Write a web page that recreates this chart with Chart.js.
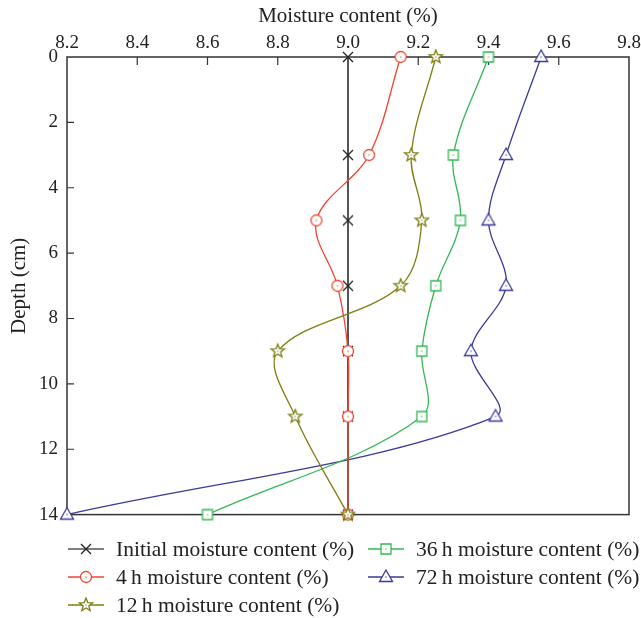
<!DOCTYPE html>
<html>
<head>
<meta charset="utf-8">
<script src="https://cdn.jsdelivr.net/npm/chart.js@4.4.1/dist/chart.umd.min.js"></script>
<style>
  html, body { margin: 0; padding: 0; background: #fff; }
  #wrap { position: relative; width: 641px; height: 618px; font-family: "Liberation Serif", "Times New Roman", serif; }
  #chart-box { position: absolute; left: 0; top: 0; width: 641px; height: 535px; }
  #legend {
    position: absolute; left: 68px; top: 535px;
    display: grid; grid-template-columns: 300px 280px; grid-template-rows: repeat(3, 28px);
    grid-auto-flow: column;
  }
  .item { display: flex; align-items: center; font-size: 21.5px; color: #222; white-space: nowrap; }
  .item canvas { margin-right: 12px; }
</style>
</head>
<body>
<div id="wrap">
  <div id="chart-box"><canvas id="moisture-chart"></canvas></div>
  <div id="legend"></div>
</div>
<script>
// Depth profile readings (cm) and moisture content (%) per series
const depths = [0, 3, 5, 7, 9, 11, 14];
const initialMoisture = [9.0, 9.0, 9.0, 9.0, 9.0, 9.0, 9.0];
const moisture4h = [9.15, 9.06, 8.91, 8.97, 9.0, 9.0, 9.0];
const moisture12h = [9.25, 9.18, 9.21, 9.15, 8.80, 8.85, 9.0];
const moisture36h = [9.40, 9.30, 9.32, 9.25, 9.21, 9.21, 8.60];
const moisture72h = [9.55, 9.45, 9.40, 9.45, 9.35, 9.42, 8.20];

const seriesLabels = [
  'Initial moisture content (%)',
  '4\u2009h moisture content (%)',
  '12\u2009h moisture content (%)',
  '36\u2009h moisture content (%)',
  '72\u2009h moisture content (%)'
];

const xTicks = [8.2, 8.4, 8.6, 8.8, 9.0, 9.2, 9.4, 9.6, 9.8];
const yTicks = [0, 2, 4, 6, 8, 10, 12, 14];

const FONT = '"Liberation Serif", "Times New Roman", serif';

/**
 * Draw one hollow marker (white fill, coloured outline) centred at cx, cy
 */
function drawMarker(ctx, type, color, cx, cy) {
  ctx.save();
  ctx.strokeStyle = color;
  ctx.fillStyle = '#fff';
  ctx.lineWidth = 1.3;
  ctx.beginPath();
  if (type === 'cross') {
    ctx.moveTo(cx - 5, cy - 5); ctx.lineTo(cx + 5, cy + 5);
    ctx.moveTo(cx + 5, cy - 5); ctx.lineTo(cx - 5, cy + 5);
    ctx.stroke();
    ctx.restore();
    return;
  }
  if (type === 'circle') {
    ctx.arc(cx, cy, 5.5, 0, Math.PI * 2);
  } else if (type === 'square') {
    ctx.rect(cx - 5, cy - 5, 10, 10);
  } else if (type === 'triangle') {
    ctx.moveTo(cx, cy - 7);
    ctx.lineTo(cx + 6.5, cy + 4.5);
    ctx.lineTo(cx - 6.5, cy + 4.5);
    ctx.closePath();
  } else if (type === 'star') {
    for (let i = 0; i < 10; i++) {
      const r = i % 2 === 0 ? 7 : 3;
      const a = -Math.PI / 2 + i * Math.PI / 5;
      const px = cx + r * Math.cos(a), py = cy + r * Math.sin(a);
      if (i === 0) ctx.moveTo(px, py); else ctx.lineTo(px, py);
    }
    ctx.closePath();
  }
  ctx.fill();
  ctx.stroke();
  // small centre dot
  ctx.fillStyle = color;
  ctx.fillRect(cx - 0.6, cy - 0.6, 1.2, 1.2);
  ctx.restore();
}

function markerImage(type, color) {
  const c = document.createElement('canvas');
  c.width = 18; c.height = 18;
  drawMarker(c.getContext('2d'), type, color, 9, 9);
  return c;
}

const seriesStyles = [
  { data: initialMoisture, marker: 'cross', color: '#222', line: '#555', width: 2, tension: 0, order: 4 },
  { data: moisture4h, marker: 'circle', color: '#f0452e', line: '#f0452e', width: 1.3, tension: 0.35, order: 1 },
  { data: moisture12h, marker: 'star', color: '#7e7e14', line: '#7e7e14', width: 1.3, tension: 0.35, order: 0 },
  { data: moisture36h, marker: 'square', color: '#35b853', line: '#35b853', width: 1.3, tension: 0.35, order: 2 },
  { data: moisture72h, marker: 'triangle', color: '#3a3a98', line: '#3a3a98', width: 1.3, tension: 0.35, order: 3 }
];

/**
 * Box frame plus inward tick marks, drawn from the chart's own scales
 */
const framePlugin = {
  id: 'frame',
  beforeDatasetsDraw(chart) {
    const { ctx, chartArea: a, scales: { x, y } } = chart;
    ctx.save();
    ctx.strokeStyle = '#333';
    ctx.lineWidth = 1.5;
    ctx.strokeRect(a.left, a.top, a.right - a.left, a.bottom - a.top);
    ctx.lineWidth = 1.2;
    ctx.beginPath();
    xTicks.slice(1, -1).forEach(v => {
      const px = x.getPixelForValue(v);
      ctx.moveTo(px, a.top); ctx.lineTo(px, a.top + 8);
    });
    yTicks.slice(1, -1).forEach(v => {
      const py = y.getPixelForValue(v);
      ctx.moveTo(a.left, py); ctx.lineTo(a.left + 7, py);
    });
    ctx.stroke();
    ctx.restore();
  }
};

const datasets = seriesStyles.map((s, i) => ({
  label: seriesLabels[i],
  data: depths.map((d, k) => ({ x: s.data[k], y: d })),
  showLine: true,
  borderColor: s.line,
  borderWidth: s.width,
  tension: s.tension,
  pointStyle: markerImage(s.marker, s.color),
  pointRadius: 6,
  order: s.order,
  clip: false
}));

new Chart(document.getElementById('moisture-chart'), {
  type: 'scatter',
  data: { datasets },
  plugins: [framePlugin],
  options: {
    responsive: true,
    maintainAspectRatio: false,
    animation: false,
    layout: { padding: { left: 0, right: 12, top: 0, bottom: 11 } },
    plugins: { legend: { display: false }, tooltip: { enabled: false } },
    scales: {
      x: {
        type: 'linear',
        position: 'top',
        min: 8.2,
        max: 9.8,
        afterBuildTicks: s => { s.ticks = xTicks.map(v => ({ value: v })); },
        afterFit: s => { s.height = 57; s.paddingRight = 0; },
        grid: { display: false, drawTicks: false },
        border: { display: false },
        ticks: {
          padding: 3,
          color: '#222',
          font: { family: FONT, size: 19 },
          callback: v => Number(v).toFixed(1)
        },
        title: {
          display: true,
          text: 'Moisture content (%)',
          color: '#222',
          font: { family: FONT, size: 21 },
          padding: { top: 4, bottom: 0 }
        }
      },
      y: {
        type: 'linear',
        reverse: true,
        min: 0,
        max: 14,
        afterBuildTicks: s => { s.ticks = yTicks.map(v => ({ value: v })); },
        afterFit: s => { s.width = 67; },
        grid: { display: false, drawTicks: false },
        border: { display: false },
        ticks: {
          padding: 9,
          color: '#222',
          font: { family: FONT, size: 19 }
        },
        title: {
          display: true,
          text: 'Depth (cm)',
          color: '#222',
          font: { family: FONT, size: 21 },
          padding: { top: 7, bottom: 0 }
        }
      }
    }
  }
});

// HTML legend laid out in two columns, as in the figure
const legendEl = document.getElementById('legend');
seriesStyles.forEach((s, i) => {
  const item = document.createElement('div');
  item.className = 'item';
  const sw = document.createElement('canvas');
  sw.width = 36; sw.height = 16;
  const c = sw.getContext('2d');
  c.strokeStyle = s.line;
  c.lineWidth = 1.3;
  c.beginPath(); c.moveTo(0, 8); c.lineTo(36, 8); c.stroke();
  drawMarker(c, s.marker, s.color, 18, 8);
  item.appendChild(sw);
  item.appendChild(document.createTextNode(seriesLabels[i]));
  legendEl.appendChild(item);
});
</script>
</body>
</html>
